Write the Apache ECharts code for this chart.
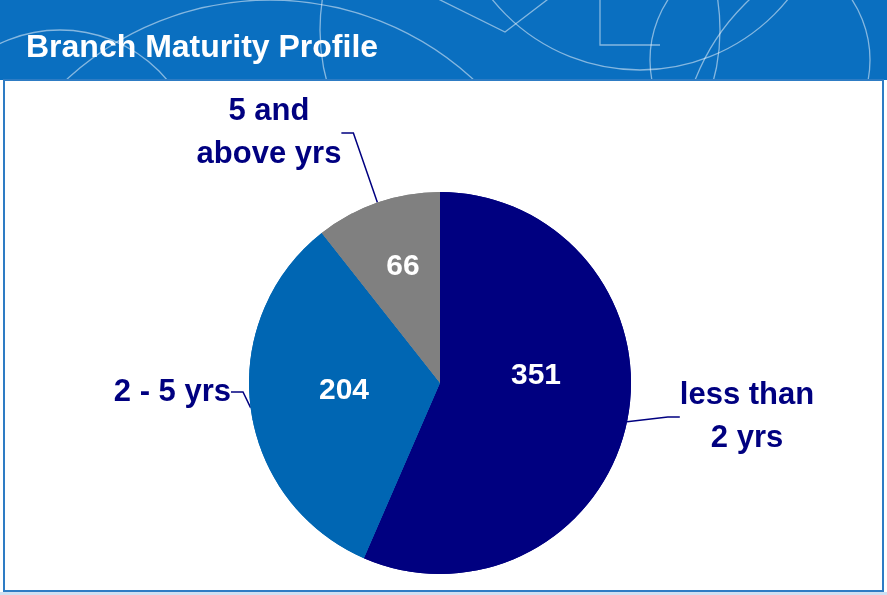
<!DOCTYPE html>
<html>
<head>
<meta charset="utf-8">
<script src="https://cdn.jsdelivr.net/npm/echarts@6/dist/echarts.min.js"></script>
<style>
  html, body { margin: 0; padding: 0; background: #ffffff; }
  #main { width: 887px; height: 595px; }
</style>
</head>
<body>
<div id="main"></div>
<script>
var categories = ['less than\n2 yrs', '2 - 5 yrs', '5 and\nabove yrs']
var branches = [351, 204, 66]
var colors = ['#000080', '#0066B3', '#808080']

// where the text sits in the slide (pixels)
var outsidePos = [[747, 417, 'center'], [231, 392, 'right'], [269, 133, 'center']]
var insidePos = [[536, 376], [344, 391], [403, 267]]

var data = []
for (let i = 0; i < branches.length; i++) {
    data.push({ name: categories[i], value: branches[i], itemStyle: { color: colors[i] } })
}

var white = 'rgba(255,255,255,0.5)'
function ring(cx, cy, r) {
    return { type: 'circle', shape: { cx: cx, cy: cy, r: r }, silent: true, z: -9,
        style: { fill: 'none', stroke: white, lineWidth: 1.3 } }
}

let myChart = echarts.init(document.getElementById('main'))
let option = {
    backgroundColor: '#ffffff',
    animation: false,
    title: {
        text: 'Branch Maturity Profile',
        left: 21,
        top: 27,
        textStyle: {
            color: '#ffffff',
            fontSize: 32,
            fontWeight: 'bold',
            fontFamily: 'Liberation Sans'
        }
    },
    graphic: [
        { type: 'rect', shape: { x: 0, y: 0, width: 887, height: 595 }, silent: true, z: -10,
            style: { fill: '#0A6FC0' } },
        ring(270, 300, 300),
        ring(60, 170, 140),
        ring(520, 30, 200),
        ring(640, -120, 190),
        ring(900, 160, 220),
        ring(760, 60, 110),
        { type: 'polyline', shape: { points: [[420, -10], [505, 32], [560, -10]] }, silent: true, z: -9,
            style: { fill: 'none', stroke: white, lineWidth: 1.3 } },
        { type: 'polyline', shape: { points: [[600, 0], [600, 45], [660, 45]] }, silent: true, z: -9,
            style: { fill: 'none', stroke: white, lineWidth: 1.3 } },
        { type: 'rect', shape: { x: 0, y: 80, width: 887, height: 515 }, silent: true, z: -8,
            style: { fill: '#ffffff' } },
        { type: 'rect', shape: { x: 4, y: 80, width: 879, height: 511 }, silent: true, z: -7,
            style: { fill: '#ffffff', stroke: '#2E7CC4', lineWidth: 2 } },
        { type: 'rect', shape: { x: 0, y: 592, width: 887, height: 3 }, silent: true, z: -7,
            style: { fill: '#CFE0F2' } }
    ],
    series: [
        {
            name: 'outside',
            type: 'pie',
            center: [440, 383],
            radius: 191,
            startAngle: 90,
            clockwise: true,
            silent: true,
            data: data,
            label: {
                show: true,
                position: 'outside',
                formatter: '{b}',
                color: '#000080',
                fontSize: 31,
                fontWeight: 'bold',
                fontFamily: 'Liberation Sans',
                lineHeight: 43
            },
            labelLine: {
                show: true,
                length: 20,
                length2: 12,
                lineStyle: { color: '#000080', width: 1.5 }
            },
            labelLayout: function (params) {
                let p = outsidePos[params.dataIndex]
                return { x: p[0], y: p[1], align: p[2], verticalAlign: 'middle' }
            }
        },
        {
            name: 'inside',
            type: 'pie',
            center: [440, 383],
            radius: 191,
            startAngle: 90,
            clockwise: true,
            silent: true,
            z: 3,
            data: data,
            itemStyle: { color: 'transparent' },
            label: {
                show: true,
                position: 'inside',
                formatter: '{c}',
                color: '#ffffff',
                fontSize: 30,
                fontWeight: 'bold',
                fontFamily: 'Liberation Sans'
            },
            labelLayout: function (params) {
                let p = insidePos[params.dataIndex]
                return { x: p[0], y: p[1], align: 'center', verticalAlign: 'middle' }
            }
        }
    ]
}

myChart.setOption(option)
</script>
</body>
</html>
